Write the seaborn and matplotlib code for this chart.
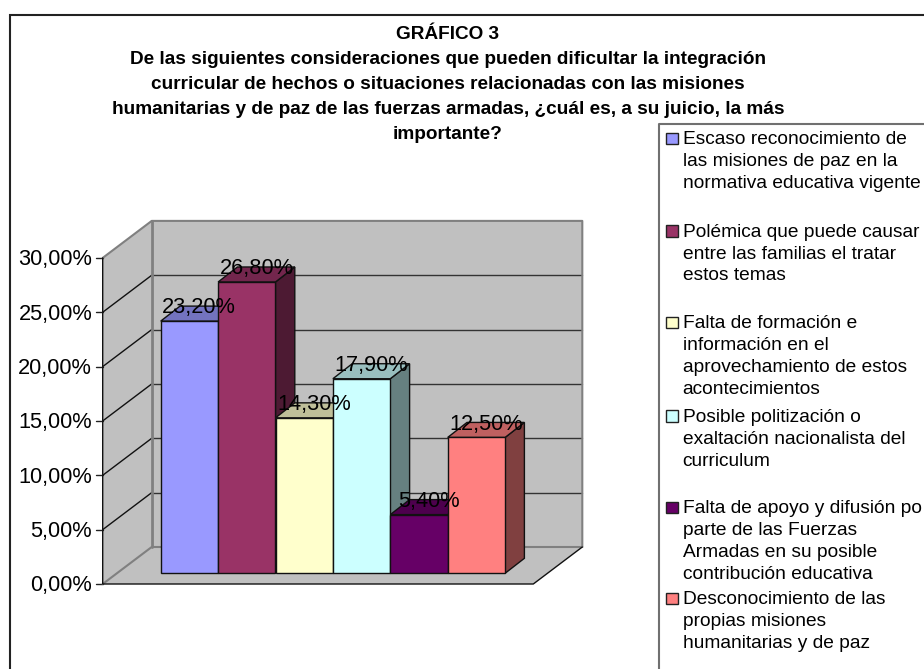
import pandas as pd
import numpy as np
import matplotlib
matplotlib.use('Agg')
import matplotlib.pyplot as plt
from matplotlib.patches import Polygon, Rectangle
import seaborn as sns

titulo = ['GRÁFICO 3',
          'De las siguientes consideraciones que pueden dificultar la integración',
          'curricular de hechos o situaciones relacionadas con las misiones',
          'humanitarias y de paz de las fuerzas armadas, ¿cuál es, a su juicio, la más',
          'importante?']
# "po" is how the source legend reads, its box cuts the last letter
categorias = [['Escaso reconocimiento de', 'las misiones de paz en la', 'normativa educativa vigente'],
              ['Polémica que puede causar', 'entre las familias el tratar', 'estos temas'],
              ['Falta de formación e', 'información en el', 'aprovechamiento de estos', 'acontecimientos'],
              ['Posible politización o', 'exaltación nacionalista del', 'curriculum'],
              ['Falta de apoyo y difusión po', 'parte de las Fuerzas', 'Armadas en su posible', 'contribución educativa'],
              ['Desconocimiento de las', 'propias misiones', 'humanitarias y de paz']]
valores = [23.2, 26.8, 14.3, 17.9, 5.4, 12.5]
colores = ['#9999FF', '#993366', '#FFFFCC', '#CCFFFF', '#660066', '#FF8080']
ticks = [0, 5, 10, 15, 20, 25, 30]

W, H = 924, 669
PX_POR_PCT = 10.87
ANCHO_BARRA = 57.4
# front plane of the bars, in pixels
X_BARRAS, Y_BARRAS = 160.7, 573.3
# axis corner and wall corner, in pixels
X_EJE, Y_EJE = 102.7, 584.0
X_PARED, Y_PARED = 151.7, 547.0
X_FIN = 533.3
FONDO_X, FONDO_Y = 19.3, 15.0


def pct(v):
    return f'{v:.2f}'.replace('.', ',') + '%'


def sombra(color, f):
    return tuple(c * f for c in matplotlib.colors.to_rgb(color))


sns.set_theme(style='white')
plt.rcParams['font.family'] = ['Liberation Sans', 'DejaVu Sans']

fig = plt.figure(figsize=(W / 100, H / 100), dpi=100)

# pixel layer for frame, walls, title and legend
base = fig.add_axes([0, 0, 1, 1])
base.set_xlim(0, W)
base.set_ylim(H, 0)
base.axis('off')

base.plot([10, 10, W], [H, 15, 15], color='#222222', lw=1.5, solid_joinstyle='miter')

alto = ticks[-1] * PX_POR_PCT
fin_pared = X_PARED + (X_FIN - X_EJE)
base.add_patch(Polygon([(X_EJE, Y_EJE), (X_PARED, Y_PARED), (fin_pared, Y_PARED), (X_FIN, Y_EJE)],
                       fc='#C0C0C0', ec='none'))
base.add_patch(Polygon([(X_EJE, Y_EJE), (X_EJE, Y_EJE - alto), (X_PARED, Y_PARED - alto), (X_PARED, Y_PARED)],
                       fc='#C0C0C0', ec='none'))
base.add_patch(Rectangle((X_PARED, Y_PARED - alto), fin_pared - X_PARED, alto, fc='#C0C0C0', ec='none'))

for t in ticks:
    d = t * PX_POR_PCT
    if 0 < t < ticks[-1]:
        base.plot([X_EJE, X_PARED], [Y_EJE - d, Y_PARED - d], color='#111111', lw=1)
        base.plot([X_PARED, fin_pared], [Y_PARED - d, Y_PARED - d], color='#333333', lw=1)
    base.plot([X_EJE - 7, X_EJE], [Y_EJE - d, Y_EJE - d], color='#222222', lw=1)
    base.text(X_EJE - 10.5, Y_EJE - d + 7.5, pct(t), ha='right', va='baseline', fontsize=15.7, color='black')

gris = '#808080'
base.plot([X_EJE, X_PARED, fin_pared, fin_pared], [Y_EJE - alto, Y_PARED - alto, Y_PARED - alto, Y_PARED],
          color=gris, lw=1.5)
base.plot([X_PARED, X_PARED], [Y_PARED - alto, Y_PARED], color=gris, lw=2)
base.plot([X_EJE, X_PARED, fin_pared], [Y_EJE, Y_PARED, Y_PARED], color=gris, lw=1.5)
base.plot([fin_pared, X_FIN, X_EJE, X_EJE], [Y_PARED, Y_EJE, Y_EJE, Y_EJE - alto], color='#111111', lw=1)

for linea, y in zip(titulo, [38.6, 64, 89, 114, 139]):
    base.text(448, y, linea, ha='center', va='baseline', fontsize=13.7, fontweight='bold', color='black')

# legend
base.plot([W, 659, 659], [124, 124, H], color='#707070', lw=1.5)
y_leyenda = [144, 236.7, 328.3, 421.7, 513.3, 604]
for lineas, color, y0 in zip(categorias, colores, y_leyenda):
    base.add_patch(Rectangle((666, y0 - 11.5), 11.5, 11.5, fc=color, ec='#222222', lw=1))
    for j, linea in enumerate(lineas):
        base.text(682.7, y0 + 21.9 * j, linea, ha='left', va='baseline', fontsize=13.8, color='black')

# bars on a transparent layer scaled so one category is one bar width
ax = fig.add_axes([0, 0, 1, 1], facecolor='none')
df = pd.DataFrame({'categoria': [' '.join(c) for c in categorias], 'valor': valores})
sns.barplot(data=df, x='categoria', y='valor', hue='categoria', palette=colores, saturation=1,
            width=1, dodge=False, legend=False, edgecolor='#111111', linewidth=1, ax=ax)
ax.set_xlim(-0.5 - X_BARRAS / ANCHO_BARRA, -0.5 + (W - X_BARRAS) / ANCHO_BARRA)
ax.set_ylim(-(H - Y_BARRAS) / PX_POR_PCT, Y_BARRAS / PX_POR_PCT)
ax.axis('off')

dx = FONDO_X / ANCHO_BARRA
dy = FONDO_Y / PX_POR_PCT
for i, (barra, color, v) in enumerate(zip(ax.patches, colores, valores)):
    x0, x1 = barra.get_x(), barra.get_x() + barra.get_width()
    lados = dict(ec='#111111', lw=1, zorder=3 + 2 * i)
    ax.add_patch(Polygon([(x1, 0), (x1 + dx, dy), (x1 + dx, v + dy), (x1, v)], fc=sombra(color, 0.5), **lados))
    ax.add_patch(Polygon([(x0, v), (x1, v), (x1 + dx, v + dy), (x0 + dx, v + dy)], fc=sombra(color, 0.75), **lados))
    barra.set_zorder(4 + 2 * i)
    ax.text((x0 + x1 + dx) / 2, v + dy - 7.2 / PX_POR_PCT, pct(v), ha='center', va='baseline', fontsize=15.7,
            color='black', zorder=50)

fig.savefig('out.png', dpi=100)
